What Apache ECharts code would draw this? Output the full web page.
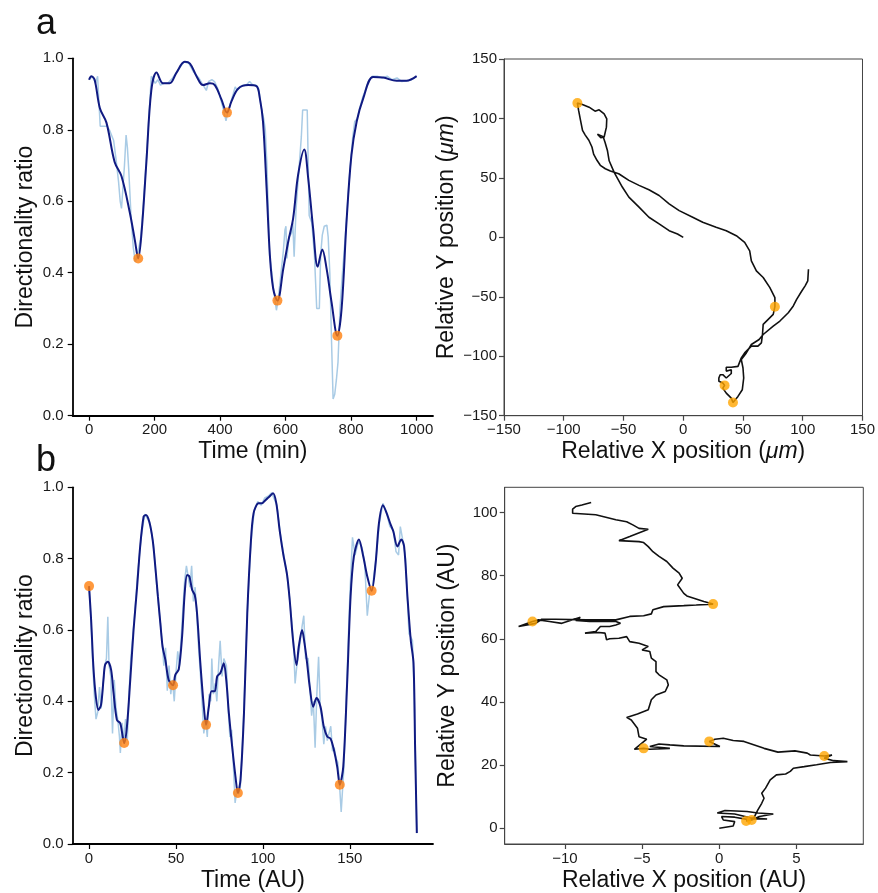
<!DOCTYPE html>
<html>
<head>
<meta charset="utf-8">
<script src="https://cdn.jsdelivr.net/npm/echarts@6/dist/echarts.min.js"></script>
<style>html,body{margin:0;padding:0;background:#fff}#c{width:878px;height:893px}</style>
</head>
<body>
<div id="c"></div>
<script>
// ---------- Panel a: directionality ratio (smoothed), [time, ratio]
const smoothA = [[0,0.94],[7,0.95],[17,0.94],[33,0.86],[53,0.82],[78,0.71],[99,0.67],[124,0.57],[140,0.49],[150,0.44],[160,0.51],[175,0.71],[190,0.91],[206,0.96],[226,0.93],[246,0.93],[267,0.96],[292,0.99],[308,0.985],[328,0.95],[348,0.925],[369,0.93],[384,0.925],[404,0.885],[421,0.848],[435,0.88],[455,0.915],[486,0.925],[511,0.922],[521,0.89],[531,0.823],[542,0.636],[552,0.449],[562,0.356],[575,0.322],[593,0.412],[608,0.487],[623,0.552],[638,0.673],[657,0.745],[669,0.664],[684,0.524],[698,0.417],[712,0.465],[725,0.412],[740,0.319],[758,0.224],[771,0.30],[786,0.543],[801,0.729],[817,0.823],[837,0.888],[867,0.948],[898,0.946],[939,0.937],[969,0.937],[1000,0.95]];
// raw ratio
const rawA = [[0,0.94],[10,0.95],[20,0.93],[26,0.95],[30,0.95],[34,0.81],[45,0.81],[55,0.81],[62,0.80],[68,0.795],[75,0.77],[82,0.72],[90,0.655],[95,0.60],[99,0.58],[104,0.585],[108,0.70],[113,0.785],[117,0.75],[121,0.69],[128,0.56],[135,0.47],[141,0.43],[147,0.445],[152,0.44],[158,0.50],[165,0.58],[175,0.72],[183,0.84],[190,0.95],[196,0.955],[202,0.93],[210,0.94],[218,0.925],[228,0.93],[240,0.93],[255,0.945],[270,0.965],[290,0.99],[305,0.985],[320,0.96],[335,0.945],[348,0.925],[358,0.91],[365,0.935],[375,0.94],[383,0.935],[393,0.915],[405,0.875],[412,0.85],[418,0.825],[425,0.855],[432,0.875],[440,0.90],[446,0.92],[452,0.91],[460,0.92],[470,0.925],[480,0.925],[490,0.935],[500,0.925],[510,0.925],[518,0.915],[526,0.86],[533,0.832],[538,0.80],[543,0.70],[548,0.55],[551,0.45],[558,0.40],[565,0.34],[572,0.295],[578,0.33],[586,0.40],[593,0.46],[598,0.52],[601,0.53],[604,0.44],[610,0.50],[618,0.51],[622,0.54],[626,0.445],[632,0.58],[640,0.68],[648,0.78],[652,0.855],[666,0.855],[672,0.56],[680,0.54],[688,0.45],[695,0.30],[703,0.30],[707,0.45],[712,0.505],[718,0.53],[726,0.533],[730,0.50],[735,0.40],[740,0.216],[745,0.047],[750,0.06],[755,0.10],[760,0.15],[766,0.30],[772,0.38],[778,0.45],[786,0.55],[795,0.67],[805,0.78],[811,0.823],[818,0.83],[826,0.86],[835,0.89],[845,0.915],[855,0.94],[865,0.95],[880,0.95],[895,0.945],[910,0.95],[925,0.94],[940,0.945],[955,0.935],[970,0.937],[985,0.94],[1000,0.95]];
const minimaA = [[150,0.44],[421,0.848],[575,0.322],[758,0.224]];

// ---------- Panel a: trajectory [x, y] in µm
const trackA = [[0,0],[-4.8,2.8],[-11.8,5.6],[-20.2,11.3],[-28.7,16.9],[-37,25.4],[-45.5,33.8],[-51,42.3],[-57.8,54.6],[-62,64.4],[-63.4,72.8],[-65.4,79.8],[-67,84.6],[-71.8,86.8],[-72.7,86],[-69,83.8],[-66.2,84.4],[-64.3,92.7],[-64,99.7],[-66.2,103.9],[-70.4,107.3],[-73.8,106.1],[-78.8,109.5],[-84.4,111.8],[-88.6,112.9],[-87.6,107],[-86,98.6],[-84.3,90],[-82,86],[-79,81.7],[-76.4,76],[-75,70],[-72.2,64.8],[-69.4,60.6],[-65.2,57.7],[-61,55.8],[-54,53.5],[-45.5,47.9],[-37,43.7],[-28.7,40],[-20.2,35.2],[-11.8,28.2],[-3.4,22.5],[7.9,16.9],[16.3,12.7],[27.5,8.5],[36,5.6],[44.4,1.4],[51.4,-4.2],[55.6,-11.3],[57,-19.7],[61.2,-28.2],[66.9,-33.8],[72.5,-42.3],[76.7,-50.7],[76.7,-58.3],[75.3,-64.8],[66.9,-73.2],[66.3,-81.7],[65.4,-88.7],[62.5,-91.5],[57,-91.5],[51.4,-97.2],[48.6,-101.4],[45.8,-108.5],[40.2,-109.3],[36,-109.3],[36,-112.5],[40.2,-111.3],[40.2,-114.5],[36,-118.3],[33.1,-115.5],[30.9,-115.5],[29.8,-118.3],[29.8,-121.1],[33.1,-122.5],[34.6,-124.5],[33.1,-126.8],[36,-131],[40.2,-135.2],[41.6,-138.9],[45.8,-133.8],[49.4,-128.2],[50.6,-118.3],[50,-109.9],[48.6,-102.8],[52.8,-97.2],[57,-90.1],[63.5,-85.9],[66.9,-81.7],[75.3,-74.6],[80.9,-70.4],[87.9,-63.4],[92.1,-57.7],[94.9,-52.1],[99.2,-45.1],[102,-40.8],[104.2,-36.6],[104.8,-26.8]];
const trackMinA = [[-88.6,112.9],[76.7,-58.3],[34.6,-124.5],[41.6,-138.9]];

// ---------- Panel b: directionality ratio (smoothed)
const smoothB = [[0,0.723],[1.2,0.628],[2.5,0.497],[3.9,0.413],[5.4,0.376],[6.9,0.39],[8.3,0.46],[9.2,0.502],[10.8,0.511],[12.7,0.488],[14.1,0.423],[16,0.348],[17.9,0.339],[18.9,0.315],[20.2,0.283],[21.8,0.33],[23.7,0.46],[25.6,0.60],[27.5,0.712],[29.4,0.834],[31.4,0.918],[32.7,0.922],[34.6,0.904],[36.6,0.852],[38.1,0.778],[39.6,0.694],[41,0.619],[42.3,0.553],[43.9,0.516],[45.8,0.46],[48.3,0.445],[49.6,0.474],[51.6,0.49],[53.5,0.581],[55,0.703],[56.4,0.754],[57.7,0.75],[59.3,0.712],[60.8,0.698],[62.1,0.647],[64,0.507],[66,0.385],[67.3,0.334],[68.9,0.385],[70.4,0.428],[72.3,0.428],[73.7,0.47],[75.6,0.48],[77.5,0.507],[78.9,0.46],[80.4,0.367],[82.3,0.273],[84.2,0.189],[85.6,0.143],[87.1,0.18],[89.1,0.367],[91,0.647],[92.9,0.834],[94.6,0.927],[97.5,0.955],[99.4,0.955],[101.4,0.964],[103.3,0.972],[105.8,0.983],[107.7,0.955],[109.6,0.88],[111.6,0.815],[113.9,0.754],[115.4,0.684],[117.3,0.572],[119.3,0.502],[120.6,0.553],[122.5,0.60],[123.9,0.563],[125.4,0.507],[126.9,0.441],[128.9,0.385],[130.8,0.409],[133.1,0.385],[135,0.329],[137,0.301],[138.9,0.295],[140.8,0.264],[142.7,0.217],[144.2,0.166],[146.2,0.217],[148.5,0.46],[150.4,0.694],[152.3,0.806],[155.2,0.854],[157.7,0.806],[160,0.75],[162.5,0.71],[164.8,0.787],[166.7,0.899],[169,0.95],[171.2,0.927],[173.1,0.90],[175,0.876],[177.3,0.834],[179.6,0.854],[181.2,0.834],[183.1,0.694],[185,0.572],[186.6,0.507],[187.5,0.273],[188.5,0.031]];
const rawB = [[0,0.72],[1,0.64],[2,0.52],[3,0.42],[4,0.35],[5,0.37],[6,0.44],[7,0.38],[8,0.45],[9,0.50],[10,0.52],[10.8,0.637],[11.5,0.50],[12.5,0.47],[13.5,0.31],[14.5,0.46],[15.5,0.38],[16.5,0.35],[17.5,0.30],[18,0.255],[19,0.34],[20,0.29],[21,0.35],[22,0.29],[23,0.42],[24,0.52],[26,0.63],[28,0.76],[30,0.86],[32,0.925],[33,0.93],[35,0.90],[37,0.84],[39,0.72],[41,0.62],[42,0.57],[43,0.50],[44,0.55],[45,0.43],[46,0.50],[47,0.42],[48,0.46],[49,0.40],[50,0.48],[51,0.54],[52,0.50],[53,0.58],[55,0.74],[56,0.78],[57,0.78],[58,0.72],[59,0.78],[60,0.68],[61,0.72],[62,0.64],[63,0.55],[64,0.48],[65,0.40],[66,0.31],[67,0.35],[68,0.30],[69,0.42],[70,0.40],[70.6,0.52],[71.5,0.42],[72.5,0.45],[73.5,0.40],[74.5,0.50],[75.4,0.57],[76.5,0.47],[77.5,0.52],[79,0.50],[80,0.38],[81,0.30],[82,0.32],[83,0.22],[84,0.115],[85,0.15],[86,0.14],[87,0.16],[88,0.26],[89,0.37],[91,0.65],[93,0.84],[95,0.935],[97,0.96],[99,0.95],[101,0.97],[103,0.975],[105,0.985],[106,0.98],[108,0.95],[110,0.87],[112,0.81],[114,0.75],[115.5,0.68],[117.5,0.57],[118.5,0.45],[119.5,0.50],[121,0.55],[122.5,0.61],[123.5,0.64],[124.5,0.52],[126,0.52],[127,0.44],[128,0.36],[129,0.40],[130,0.27],[131,0.42],[132,0.525],[133,0.38],[134,0.35],[135,0.28],[136,0.33],[137,0.29],[138,0.31],[139,0.33],[140,0.26],[141,0.27],[142,0.24],[143,0.23],[144,0.17],[145,0.09],[146.5,0.21],[148,0.42],[150,0.70],[151.5,0.86],[153,0.81],[155,0.85],[157,0.83],[158.5,0.79],[160,0.64],[161.5,0.71],[163,0.72],[165,0.80],[167,0.90],[169,0.955],[171,0.93],[173,0.89],[175,0.88],[176.5,0.82],[178,0.81],[179,0.89],[180.5,0.85],[182,0.80],[184,0.59],[186,0.57],[187,0.42],[188.5,0.03]];
const minimaB = [[0,0.723],[20.2,0.283],[48.3,0.445],[67.3,0.334],[85.6,0.143],[144.2,0.166],[162.5,0.71]];

// ---------- Panel b: trajectory [x, y] in AU
const trackB = [[0,0],[0.9,0.7],[1.0,2.1],[0.26,2.6],[0.15,3.7],[1.0,3.5],[1.8,2.8],[2.6,3.0],[3.1,2.9],[2.0,3.3],[1.0,4.5],[-0.13,4.8],[0.37,5.6],[1.8,5.3],[2.5,4.8],[3.5,4.5],[2.6,3.7],[2.1,2.6],[1.74,2.3],[2.2,2.9],[2.5,5.8],[2.75,7.9],[2.9,9.5],[2.75,11.1],[3.0,12.7],[3.3,15.3],[3.7,16.9],[4.3,17.2],[4.6,18],[4.8,19],[5.5,19.5],[6.3,20.1],[7.2,20.8],[8.3,21.1],[7.4,21.4],[6.8,22.2],[7.3,23.2],[6.8,22.9],[5.9,23.2],[5.7,23.8],[4.9,24.5],[3.8,24.1],[2.9,25.3],[1.6,27.5],[0.9,27.8],[0.26,28.5],[-0.28,28.2],[-0.65,27.5],[0.04,25.9],[-2.3,26.1],[-3.2,26.4],[-3.9,26.7],[-4.5,25.9],[-3.2,25.3],[-4.5,25],[-4.9,25.3],[-5.5,25],[-4.7,28.2],[-5.2,29],[-5.3,31.7],[-5.7,34.3],[-6.0,35.1],[-5.3,36.2],[-4.6,37.5],[-4.4,40.7],[-4.1,42.2],[-3.5,43.3],[-3.3,45.4],[-3.4,47],[-3.9,48.6],[-4.1,49.6],[-4.1,52.8],[-4.4,53.9],[-4.5,56],[-5.0,56.5],[-4.6,57.6],[-5.2,58.6],[-5.8,59.1],[-6.0,60.7],[-6.5,60.2],[-7.1,60],[-7.3,59.7],[-7.4,61.8],[-7.8,62],[-8.7,61.8],[-8.0,62.3],[-7.7,63.9],[-7.1,63.9],[-6.7,64.4],[-6.4,64.9],[-6.7,65.5],[-8.4,65.5],[-9.3,65.8],[-9.0,66.8],[-10.2,64.9],[-11,65.5],[-11.7,66],[-12.1,65.5],[-13,63.9],[-11.9,64.9],[-11.5,66.2],[-10.6,66.2],[-8.6,66],[-6.7,66],[-5.8,67.1],[-4.9,67.3],[-4.4,67.9],[-4.3,69.2],[-3.6,70.2],[-2.3,70.5],[-1.5,70.7],[-0.4,71],[-1.0,71.8],[-2.1,73.6],[-2.3,74.4],[-2.7,77.1],[-2.8,77.6],[-2.4,79.2],[-2.6,80.8],[-3.0,82.4],[-3.4,84.5],[-3.9,86.1],[-4.3,87.6],[-4.6,89.2],[-4.9,90.5],[-5.2,90.8],[-6.5,91.1],[-5.8,92.4],[-4.6,94.7],[-5.2,95],[-5.6,96.1],[-6.0,97.1],[-6.7,97.7],[-8.0,99.3],[-9.5,99.8],[-9.5,101.1],[-9.3,101.9],[-8.9,102.4],[-8.3,103.2]];
const trackMinB = [[1.74,2.3],[2.1,2.6],[6.8,22.9],[-0.65,27.5],[-4.9,25.3],[-12.1,65.5],[-0.4,71]];

// ---------- tick values
const ticksRatio = [0,0.2,0.4,0.6,0.8,1.0];
const ticksTimeA = [0,200,400,600,800,1000];
const ticksTimeB = [0,50,100,150];
const ticksPosA = [-150,-100,-50,0,50,100,150];
const ticksPosBx = [-10,-5,0,5];
const ticksPosBy = [0,20,40,60,80,100];

const FONT = "'Liberation Sans', Arial, Helvetica, sans-serif";
const minus = v => String(v).replace('-', '\u2212');

function nameStyle(){
  return {fontFamily:FONT, fontSize:23, color:'#111',
    rich:{n:{fontFamily:FONT, fontSize:23, color:'#111'}, i:{fontFamily:FONT, fontSize:23, color:'#111', fontStyle:'italic'}}};
}
function axis(opt){
  const o = {
    type:'value', gridIndex:opt.grid, min:opt.min, max:opt.max,
    name:opt.name, nameLocation:'middle', nameGap:opt.gap, nameTextStyle:nameStyle(),
    splitLine:{show:false},
    axisLine:{show:true, onZero:false, lineStyle:{color:opt.box?'#444':'#000', width:opt.box?1:1.8}},
    axisTick:{show:true, inside:false, length:5, customValues:opt.ticks, lineStyle:{color:opt.box?'#444':'#000', width:1.2}},
    axisLabel:{show:true, customValues:opt.ticks, margin:opt.margin, fontFamily:FONT, fontSize:15, color:'#1a1a1a',
      formatter:opt.fmt || (v=>minus(v))}
  };
  if (opt.rot) o.nameRotate = 90;
  return o;
}

const chart = echarts.init(document.getElementById('c'), null, {renderer:'canvas'});
chart.setOption({
  animation:false,
  backgroundColor:'#fff',
  graphic:[
    {type:'text', left:36, top:6, style:{text:'a', font:"36px "+FONT, fill:'#111'}},
    {type:'text', left:36, top:443, style:{text:'b', font:"36px "+FONT, fill:'#111'}}
  ],
  grid:[
    {left:72.7, top:58.3, width:360.3, height:357.4},
    {left:504, top:59, width:359.3, height:356.7, show:true, borderColor:'#444', borderWidth:1, backgroundColor:'transparent'},
    {left:72.7, top:487.3, width:360.3, height:357},
    {left:504.7, top:487.3, width:358.6, height:356.7, show:true, borderColor:'#444', borderWidth:1, backgroundColor:'transparent'}
  ],
  xAxis:[
    axis({grid:0, min:-50, max:1050, ticks:ticksTimeA, name:'Time (min)', gap:24, margin:7}),
    axis({grid:1, min:-150, max:150, ticks:ticksPosA, name:'{n|Relative X position (}{i|\u03bcm}{n|)}', gap:24, margin:7, box:true}),
    axis({grid:2, min:-9.4, max:197.8, ticks:ticksTimeB, name:'Time (AU)', gap:25, margin:7}),
    axis({grid:3, min:-13.9, max:9.33, ticks:ticksPosBx, name:'Relative X position (AU)', gap:25, margin:7, box:true})
  ],
  yAxis:[
    axis({grid:0, min:0, max:1, ticks:ticksRatio, name:'Directionality ratio', gap:36, margin:9, rot:true, fmt:v=>v.toFixed(1)}),
    axis({grid:1, min:-150, max:150, ticks:ticksPosA, name:'{n|Relative Y position (}{i|\u03bcm}{n|)}', gap:46, margin:7, box:true, rot:true}),
    axis({grid:2, min:0, max:1, ticks:ticksRatio, name:'Directionality ratio', gap:36, margin:9, rot:true, fmt:v=>v.toFixed(1)}),
    axis({grid:3, min:-5, max:108, ticks:ticksPosBy, name:'Relative Y position (AU)', gap:46, margin:7, box:true, rot:true})
  ],
  series:[
    {type:'line', xAxisIndex:0, yAxisIndex:0, data:rawA, symbol:'none', lineStyle:{color:'#a9cbe5', width:1.5}, z:2},
    {type:'line', xAxisIndex:0, yAxisIndex:0, data:smoothA, symbol:'none', smooth:0.35, lineStyle:{color:'#101a82', width:2}, z:3},
    {type:'scatter', xAxisIndex:0, yAxisIndex:0, data:minimaA, symbolSize:10, itemStyle:{color:'#ff7f0e'}, z:4},
    {type:'line', xAxisIndex:1, yAxisIndex:1, data:trackA, symbol:'none', lineStyle:{color:'#111', width:1.6}, z:2},
    {type:'scatter', xAxisIndex:1, yAxisIndex:1, data:trackMinA, symbolSize:10, itemStyle:{color:'#ffa500'}, z:4},
    {type:'line', xAxisIndex:2, yAxisIndex:2, data:rawB, symbol:'none', lineStyle:{color:'#a9cbe5', width:1.5}, z:2},
    {type:'line', xAxisIndex:2, yAxisIndex:2, data:smoothB, symbol:'none', smooth:0.3, lineStyle:{color:'#101a82', width:2}, z:3},
    {type:'scatter', xAxisIndex:2, yAxisIndex:2, data:minimaB, symbolSize:10, itemStyle:{color:'#ff7f0e'}, z:4},
    {type:'line', xAxisIndex:3, yAxisIndex:3, data:trackB, symbol:'none', lineStyle:{color:'#111', width:1.6}, z:2},
    {type:'scatter', xAxisIndex:3, yAxisIndex:3, data:trackMinB, symbolSize:10, itemStyle:{color:'#ffa500'}, z:4}
  ]
});
</script>
</body>
</html>
